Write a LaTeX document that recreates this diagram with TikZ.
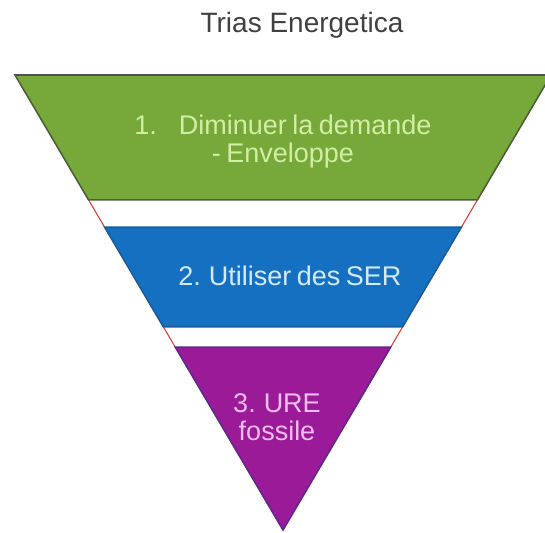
\documentclass[tikz,border=0pt]{standalone}
\usepackage{fontspec}
\setmainfont{Liberation Sans}
\usetikzlibrary{calc}
\definecolor{bandgreen}{HTML}{77A83A}
\definecolor{bandblue}{HTML}{1570C2}
\definecolor{bandpurple}{HTML}{9A1A98}
\definecolor{edgegreen}{HTML}{4A5E3A}
\definecolor{edgeblue}{HTML}{1A5C9A}
\definecolor{edgepurple}{HTML}{5A2A8C}
\definecolor{txtgreen}{HTML}{D2EEA4}
\definecolor{txtblue}{HTML}{D4EAFA}
\definecolor{txtpurple}{HTML}{F2BCEE}
\definecolor{titlegray}{HTML}{404040}
\definecolor{edgered}{HTML}{E0302A}
\definecolor{topline}{HTML}{505050}
\newcommand{\lblfont}{\fontsize{27}{28}\selectfont}
\newcommand{\tightwords}{\spaceskip=5.5pt plus 2pt minus 1pt\relax}
\begin{document}
\begin{tikzpicture}[x=1pt,y=-1pt,
  band/.style={line width=1.5pt, line join=miter},
  lbl/.style={font=\lblfont, align=center, inner sep=0pt, anchor=base},
]
\useasboundingbox (0,0) rectangle (545,532);
\fill[white] (0,0) rectangle (545,532);
\clip (0,0) rectangle (545,532);
\coordinate (TL) at (15,75);
\coordinate (TR) at (551,75);
\coordinate (A) at (283,530);
\draw[edgered, line width=1pt] (TL) -- (A) -- (TR);
% green band
\coordinate (g1) at ($(TL)!0.2747!(A)$);
\coordinate (g2) at ($(TR)!0.2747!(A)$);
\filldraw[band, fill=bandgreen, draw=edgegreen] (TL) -- (TR) -- (g2) -- (g1) -- cycle;
\draw[line width=2.5pt, draw=topline] (TL) -- (TR);
% blue band
\coordinate (b1) at ($(TL)!0.3341!(A)$);
\coordinate (b2) at ($(TR)!0.3341!(A)$);
\coordinate (b3) at ($(TR)!0.5538!(A)$);
\coordinate (b4) at ($(TL)!0.5538!(A)$);
\filldraw[band, fill=bandblue, draw=edgeblue] (b1) -- (b2) -- (b3) -- (b4) -- cycle;
% purple band
\coordinate (p1) at ($(TL)!0.5978!(A)$);
\coordinate (p2) at ($(TR)!0.5978!(A)$);
\filldraw[band, fill=bandpurple, draw=edgepurple] (p1) -- (p2) -- (A) -- cycle;
% texts
\node[lbl, font=\fontsize{28}{28}\selectfont, text=titlegray] (title) at (302,33) {Trias Energetica};
\node[lbl, text=txtgreen] (l1) at (283,162) {\tightwords 1.\hspace{22pt}Diminuer la demande\\\tightwords - Enveloppe};
\node[lbl, text=txtblue] (l2) at (290,285) {\tightwords 2. Utiliser des SER};
\node[lbl, text=txtpurple] (l3) at (277,440) {\tightwords 3. URE\\fossile};
\end{tikzpicture}
\end{document}
